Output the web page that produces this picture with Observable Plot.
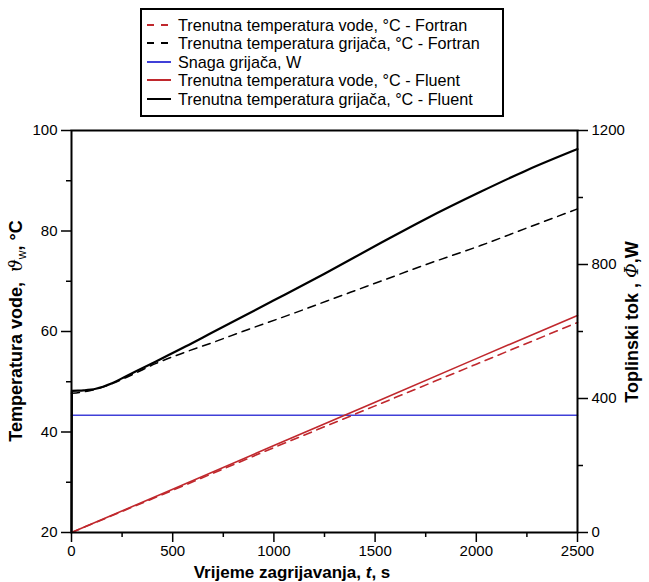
<!DOCTYPE html>
<html><head><meta charset="utf-8">
<script src="https://cdn.jsdelivr.net/npm/d3@7"></script>
<script src="https://cdn.jsdelivr.net/npm/@observablehq/plot@0.6"></script>
<style>
body{margin:0;background:#fff;font-family:"Liberation Sans",Arial,sans-serif;}
#wrap{position:relative;width:649px;height:582px;overflow:hidden;}
#legend{position:absolute;left:140px;top:8px;width:360px;height:105px;border:2px solid #000;}
.row{position:absolute;left:0;height:18px;width:360px;}
.row svg{position:absolute;left:5px;top:0;}
.row span{position:absolute;left:36px;top:0;line-height:18px;font-size:16.2px;white-space:nowrap;color:#000;}
#chart{position:absolute;left:0;top:118px;}
</style></head>
<body><div id="wrap"><div id="legend"></div><div id="chart"></div></div>
<script>
// ---- data ----
const waterFluentT = [0, 500, 1000, 1500, 2000, 2500];
const waterFluentV = [20, 28.6, 37.3, 45.9, 54.6, 63.2];
const waterFortranT = [0, 500, 1000, 1500, 2000, 2500];
const waterFortranV = [20, 28.4, 36.9, 45.2, 53.5, 61.8];
const heaterFortranT = [0, 100, 200, 300, 415, 563, 711, 845, 1082, 1378, 1527, 1750, 2021, 2250, 2500];
const heaterFortranV = [47.7, 48.3, 49.6, 51.4, 53.6, 55.9, 58.0, 60.0, 63.4, 67.8, 70.0, 73.3, 77.1, 80.6, 84.4];
const heaterFluentT = [0, 2, 60, 120, 200, 270, 415, 563, 700, 1000, 1250, 1527, 1750, 2021, 2250, 2500];
const heaterFluentV = [20, 48.2, 48.3, 48.6, 49.7, 51.1, 54.0, 57.0, 59.9, 66.2, 71.5, 77.6, 82.4, 87.8, 92.1, 96.3];
const powerT = [0, 2500];
const powerW = [350, 350];

const xMajor = [0, 500, 1000, 1500, 2000, 2500];
const xMinor = [250, 750, 1250, 1750, 2250];
const yMajor = [20, 40, 60, 80, 100];
const yMinor = [30, 50, 70, 90];
const wMajor = [0, 400, 800, 1200];
const wMinor = [200, 600, 1000];

const legendLabels = [
  "Trenutna temperatura vode, °C - Fortran",
  "Trenutna temperatura grijača, °C - Fortran",
  "Snaga grijača, W",
  "Trenutna temperatura vode, °C - Fluent",
  "Trenutna temperatura grijača, °C - Fluent"
];
const RED = "#c0282d", BLUE = "#4040d8", BLACK = "#000";
const legendColors = [RED, BLACK, BLUE, RED, BLACK];
const legendDash = ["7,7", "7,7", null, null, null];
const legendRows = [15, 33, 52, 70, 89];

// secondary axis mapping: 1200 W over 80 °C
const W2T = w => 20 + w / 15;
const T2W = t => (t - 20) * 15;

const zip = (ts, vs) => ts.map((t, i) => ({t, v: vs[i]}));

// legend
const leg = document.getElementById("legend");
legendLabels.forEach((lab, i) => {
  const row = document.createElement("div");
  row.className = "row";
  row.style.top = (legendRows[i] - 9) + "px";
  row.innerHTML = `<svg width="26" height="18"><line x1="0" x2="24" y1="9" y2="9" stroke="${legendColors[i]}" stroke-width="2" ${legendDash[i] ? `stroke-dasharray="${legendDash[i]}"` : ""}/></svg><span>${lab}</span>`;
  leg.appendChild(row);
});

const axisStyle = {strokeWidth: 1.5};
const chart = Plot.plot({
  width: 649, height: 464,
  marginLeft: 71, marginRight: 72, marginTop: 12, marginBottom: 50,
  x: {domain: [0, 2500]},
  y: {domain: [20, 100]},
  style: {fontFamily: "Liberation Sans, Arial, sans-serif", fontSize: "15px", color: "#000", background: "#fff"},
  marks: [
    Plot.line(zip(powerT, powerW), {x: "t", y: d => W2T(d.v), stroke: BLUE, strokeWidth: 1.6}),
    Plot.line(zip(heaterFortranT, heaterFortranV), {x: "t", y: "v", stroke: BLACK, strokeWidth: 1.5, strokeDasharray: "8,6", curve: "monotone-x"}),
    Plot.line(zip(heaterFluentT, heaterFluentV), {x: "t", y: "v", stroke: BLACK, strokeWidth: 2.2, curve: "monotone-x"}),
    Plot.line(zip(waterFortranT, waterFortranV), {x: "t", y: "v", stroke: RED, strokeWidth: 1.6, strokeDasharray: "8,6"}),
    Plot.line(zip(waterFluentT, waterFluentV), {x: "t", y: "v", stroke: RED, strokeWidth: 1.6}),
    Plot.frame({strokeWidth: 2}),
    Plot.axisX({ticks: xMajor, tickSize: 10, tickPadding: 3, tickFormat: d => String(d), label: null, ...axisStyle}),
    Plot.axisX({ticks: xMinor, tickSize: 5, tickFormat: () => "", label: null, ...axisStyle}),
    Plot.axisY({ticks: yMajor, tickSize: 10, tickPadding: 4, tickFormat: d => String(d), label: null, ...axisStyle}),
    Plot.axisY({ticks: yMinor, tickSize: 5, tickFormat: () => "", label: null, ...axisStyle}),
    Plot.axisY({anchor: "right", ticks: wMajor.map(W2T), tickSize: 10, tickPadding: 4, tickFormat: t => String(Math.round(T2W(t))), label: null, ...axisStyle}),
    Plot.axisY({anchor: "right", ticks: wMinor.map(W2T), tickSize: 5, tickFormat: () => "", label: null, ...axisStyle})
  ]
});
document.getElementById("chart").appendChild(chart);

// axis titles
const svg = d3.select(chart);
const greek = "DejaVu Serif, serif";
const yl = svg.append("text")
  .attr("transform", "translate(22,213) rotate(-90)")
  .attr("text-anchor", "middle").attr("font-weight", "bold").attr("font-size", 18).attr("fill", "#000");
yl.append("tspan").text("Temperatura vode,  ");
yl.append("tspan").attr("font-style", "italic").attr("font-weight", "normal").attr("font-family", greek).text("ϑ");
yl.append("tspan").attr("font-size", 12).attr("font-weight", "normal").attr("dy", 4).text("w");
yl.append("tspan").attr("dy", -4).text(", °C");

const yr = svg.append("text")
  .attr("transform", "translate(638,204) rotate(-90)")
  .attr("text-anchor", "middle").attr("font-weight", "bold").attr("font-size", 18).attr("fill", "#000");
yr.append("tspan").text("Toplinski tok , ");
yr.append("tspan").attr("font-style", "italic").attr("font-weight", "normal").attr("font-family", greek).text("Φ");
yr.append("tspan").text(",W");

const xl = svg.append("text")
  .attr("x", 292).attr("y", 460)
  .attr("text-anchor", "middle").attr("font-weight", "bold").attr("font-size", 17).attr("fill", "#000");
xl.append("tspan").text("Vrijeme zagrijavanja, ");
xl.append("tspan").attr("font-style", "italic").text("t");
xl.append("tspan").text(", s");
</script></body></html>
